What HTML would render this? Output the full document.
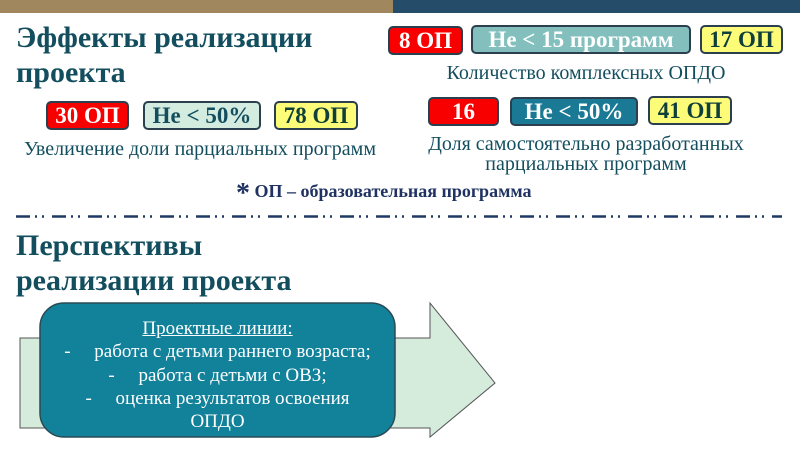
<!DOCTYPE html>
<html><head><meta charset="utf-8"><style>
body{margin:0;width:800px;height:450px;overflow:hidden;background:#fff;position:relative;font-family:"Liberation Serif",serif}
.a{position:absolute}
.t{color:#134e5e;font-weight:bold;font-size:30px;line-height:35px;left:16px}
.b{position:absolute;box-sizing:border-box;border:2px solid #2c3f4f;border-radius:5px;font-weight:bold;font-size:23px;text-align:center;line-height:25px;white-space:nowrap}
.r{background:#f80000;color:#fff}
.y{background:#fdfc78;color:#0f3f3a}
.c{color:#134e5e;font-size:20px;text-align:center;line-height:20px;white-space:nowrap}
</style></head><body>
<div class="a" style="left:0;top:0;width:393px;height:13px;background:#a0875e"></div>
<div class="a" style="left:393px;top:0;width:407px;height:13px;background:#254d6a"></div>
<div class="a t" style="top:20px">Эффекты реализации<br>проекта</div>
<div class="b r" style="left:46px;top:101px;width:83px;height:29px">30 ОП</div>
<div class="b" style="left:143px;top:101px;width:118px;height:29px;background:#d4ebe0;color:#134e5e">Не &lt; 50%</div>
<div class="b y" style="left:274px;top:101px;width:84px;height:29px">78 ОП</div>
<div class="a c" style="left:0;width:400px;top:139px">Увеличение доли парциальных программ</div>
<div class="b r" style="left:388px;top:26px;width:75px;height:29px">8 ОП</div>
<div class="b" style="left:471px;top:25px;width:220px;height:29px;background:#82bfbd;color:#fff">Не &lt; 15 программ</div>
<div class="b y" style="left:700px;top:25px;width:83px;height:29px">17 ОП</div>
<div class="a c" style="left:386px;width:400px;top:63px">Количество комплексных ОПДО</div>
<div class="b r" style="left:428px;top:97px;width:71px;height:29px">16</div>
<div class="b" style="left:510px;top:97px;width:128px;height:29px;background:#1a7a95;color:#fff">Не &lt; 50%</div>
<div class="b y" style="left:648px;top:96px;width:84px;height:29px">41 ОП</div>
<div class="a c" style="left:386px;width:400px;top:134px">Доля самостоятельно разработанных<br>парциальных программ</div>
<div class="a" style="left:236px;top:178px;color:#1f3261;font-weight:bold;font-size:18px;white-space:nowrap"><span style="font-size:28px;vertical-align:-5px">*</span> ОП – образовательная программа</div>
<svg class="a" style="left:0;top:0" width="800" height="450">
<line x1="16" y1="216.5" x2="782" y2="216.5" stroke="#1f3864" stroke-width="2.5" stroke-dasharray="14 5 2 5 2 8"/>
<polygon points="20,338 430,338 430,303 495,383 430,437 430,428 20,428" fill="#d5ebdc" stroke="#555" stroke-width="1"/>
<rect x="40" y="303" width="355" height="134" rx="24" fill="#12819a" stroke="#2a4a55" stroke-width="1.5"/>
</svg>
<div class="a t" style="top:228px">Перспективы<br>реализации проекта</div>
<div class="a" style="left:30px;top:317px;width:375px;color:#fff;font-size:19px;line-height:23.3px;text-align:center;white-space:nowrap">
<u>Проектные линии:</u><br>-&nbsp;&nbsp;&nbsp;&nbsp; работа с детьми раннего возраста;<br>-&nbsp;&nbsp;&nbsp;&nbsp; работа с детьми с ОВЗ;<br>-&nbsp;&nbsp;&nbsp;&nbsp; оценка результатов освоения<br>ОПДО</div>
</body></html>
